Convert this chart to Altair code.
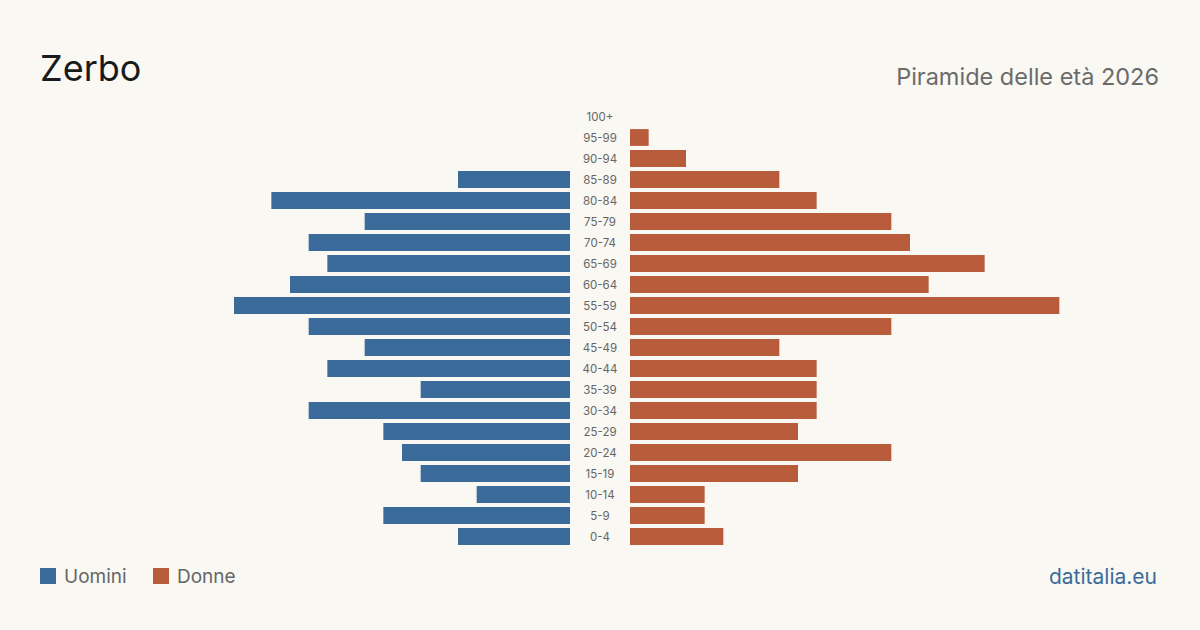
import altair as alt
import pandas as pd

ages = ["100+", "95-99", "90-94", "85-89", "80-84", "75-79", "70-74", "65-69", "60-64",
        "55-59", "50-54", "45-49", "40-44", "35-39", "30-34", "25-29", "20-24", "15-19",
        "10-14", "5-9", "0-4"]
uomini = [0, 0, 0, 6, 16, 11, 14, 13, 15, 18, 14, 11, 13, 8, 14, 10, 9, 8, 5, 10, 6]
donne = [0, 1, 3, 8, 10, 14, 15, 19, 16, 23, 14, 8, 10, 10, 10, 9, 14, 9, 4, 4, 5]

BG = "#f9f8f3"
BLUE = "#3b6b9b"
ORANGE = "#b85c3c"
FONT = "Inter"

W, H = 1120, 441
DOM = 30.0
GAP = 30 * (2 * DOM) / W  # half of the 60px central gap, in data units

df = pd.DataFrame({"age": ages, "uomini": uomini, "donne": donne})
xsc = alt.Scale(domain=[-DOM, DOM], nice=False, zero=False)
ysc = alt.Scale(domain=ages, paddingInner=0.2, paddingOuter=0.1)
base = alt.Chart(df)

left = base.transform_calculate(
    x0=f"-{GAP}", x1=f"-{GAP} - datum.uomini"
).mark_bar(color=BLUE).encode(
    x=alt.X("x1:Q", scale=xsc, axis=None),
    x2="x0:Q",
    y=alt.Y("age:N", sort=ages, scale=ysc, axis=None),
)
right = base.transform_calculate(
    x0=f"{GAP}", x1=f"{GAP} + datum.donne"
).mark_bar(color=ORANGE).encode(
    x=alt.X("x0:Q", scale=xsc, axis=None),
    x2="x1:Q",
    y=alt.Y("age:N", sort=ages, scale=ysc, axis=None),
)
labels = base.transform_calculate(c="0").mark_text(
    fontSize=11.5, font=FONT, color="#666666", dy=1
).encode(
    x=alt.X("c:Q", scale=xsc, axis=None),
    y=alt.Y("age:N", sort=ages, scale=ysc, axis=None),
    text="age:N",
)

one = pd.DataFrame({"k": [0]})
title = alt.Chart(one).mark_text(text="Zerbo", align="left", baseline="alphabetic",
                                 fontSize=36, font=FONT, color="#1a1a1a").encode(
    x=alt.value(0), y=alt.value(-25))
subtitle = alt.Chart(one).mark_text(text="Piramide delle età 2026", align="right",
                                    baseline="alphabetic", fontSize=23.5, font=FONT,
                                    color="#6b6b6b").encode(
    x=alt.value(W - 1), y=alt.value(-21))
footer = alt.Chart(one).mark_text(text="datitalia.eu", align="right", baseline="alphabetic",
                                  fontSize=21, font=FONT, color=BLUE).encode(
    x=alt.value(W - 3), y=alt.value(H + 37))

leg_sq1 = alt.Chart(one).mark_square(size=256, opacity=1, color=BLUE).encode(
    x=alt.value(8), y=alt.value(H + 29))
leg_sq2 = alt.Chart(one).mark_square(size=256, opacity=1, color=ORANGE).encode(
    x=alt.value(121), y=alt.value(H + 29))
leg_t1 = alt.Chart(one).mark_text(text="Uomini", align="left", baseline="middle",
                                  fontSize=19, font=FONT, color="#666666").encode(
    x=alt.value(24), y=alt.value(H + 30))
leg_t2 = alt.Chart(one).mark_text(text="Donne", align="left", baseline="middle",
                                  fontSize=19, font=FONT, color="#666666").encode(
    x=alt.value(137), y=alt.value(H + 30))

chart = alt.layer(left, right, labels, title, subtitle, footer,
                  leg_sq1, leg_sq2, leg_t1, leg_t2).properties(
    width=W, height=H,
    background=BG,
    padding={"left": 40, "top": 106, "right": 40, "bottom": 83},
    autosize=alt.AutoSizeParams(type="none"),
).configure_view(stroke=None)

chart.save("out.html", embed_options={"renderer": "svg", "actions": False})
